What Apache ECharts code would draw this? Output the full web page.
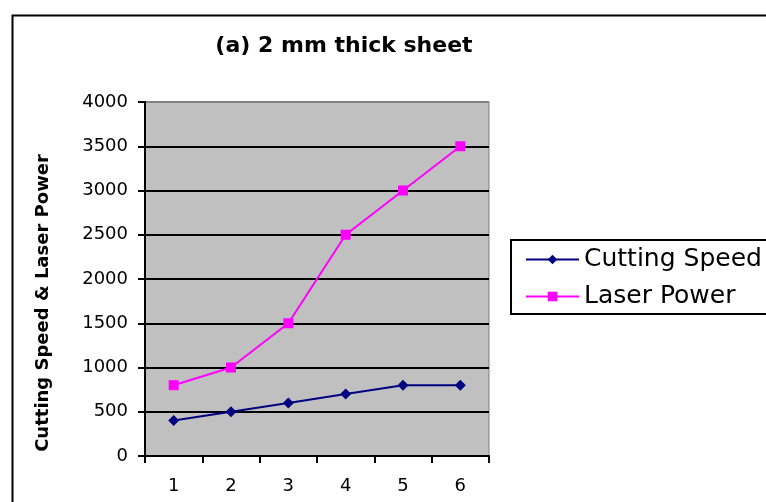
<!DOCTYPE html>
<html><head><meta charset="utf-8">
<script src="https://cdn.jsdelivr.net/npm/echarts@6/dist/echarts.min.js"></script>
<style>html,body{margin:0;padding:0;background:#fff}#c{width:766px;height:502px}</style>
</head><body><div id="c"></div>
<script>
var categories = ['1','2','3','4','5','6'];
var cuttingSpeed = [400, 500, 600, 700, 800, 800];
var laserPower = [800, 1000, 1500, 2500, 3000, 3500];
var yTicks = [0, 500, 1000, 1500, 2000, 2500, 3000, 3500, 4000];

var font = 'DejaVu Sans, Liberation Sans, Arial, sans-serif';
var chart = echarts.init(document.getElementById('c'), null, {renderer:'canvas'});
chart.setOption({
  backgroundColor: '#fff',
  animation: false,
  title: {
    text: '(a) 2 mm thick sheet',
    left: 339, top: 30, textAlign: 'center',
    textStyle: {fontFamily: font, fontSize: 22, fontWeight: 'bold', color: '#000'}
  },
  graphic: [{
    type: 'rect', left: 10, top: 13, shape: {width: 800, height: 600},
    style: {fill: 'none', stroke: '#000', lineWidth: 2}, silent: true, z: -1
  }],
  grid: {
    left: 145, top: 102, width: 344, height: 354,
    show: true, backgroundColor: '#C0C0C0', borderColor: '#808080', borderWidth: 1
  },
  legend: {
    orient: 'vertical', left: 511, top: 240,
    backgroundColor: '#fff', borderColor: '#000', borderWidth: 2,
    padding: [7, 10, 5, 14], itemGap: 12, itemWidth: 53, itemHeight: 12,
    textStyle: {fontFamily: font, fontSize: 25, color: '#000', padding: [0, 0, 0, 0]},
    data: ['Cutting Speed', 'Laser Power']
  },
  xAxis: {
    type: 'category', data: categories, boundaryGap: true,
    axisLine: {lineStyle: {color: '#000', width: 2}},
    axisTick: {show: true, length: 7, inside: false, lineStyle: {color: '#000', width: 2}},
    axisLabel: {fontFamily: font, fontSize: 18, color: '#000', margin: 21},
    splitLine: {show: false}
  },
  yAxis: {
    type: 'value', min: yTicks[0], max: yTicks[yTicks.length - 1], interval: yTicks[1] - yTicks[0],
    name: 'Cutting Speed & Laser Power', nameLocation: 'middle', nameGap: 93,
    nameTextStyle: {fontFamily: font, fontSize: 18, fontWeight: 'bold', color: '#000', padding: [0, 48, 0, 0]},
    axisLine: {show: true, lineStyle: {color: '#000', width: 2}},
    axisTick: {show: true, length: 7, lineStyle: {color: '#000', width: 2}},
    axisLabel: {fontFamily: font, fontSize: 18, color: '#000', margin: 17,
      formatter: function (v) { return String(v); }},
    splitLine: {show: true, lineStyle: {color: ['#000','#000','#000','#000','#000','#000','#000','#000','#808080'], width: 2}}
  },
  series: [{
    name: 'Cutting Speed', type: 'line', data: cuttingSpeed,
    symbol: 'diamond', symbolSize: 11,
    lineStyle: {color: '#000080', width: 2}, itemStyle: {color: '#000080'}
  }, {
    name: 'Laser Power', type: 'line', data: laserPower,
    symbol: 'rect', symbolSize: 10,
    lineStyle: {color: '#FF00FF', width: 2}, itemStyle: {color: '#FF00FF'}
  }]
});
</script></body></html>
